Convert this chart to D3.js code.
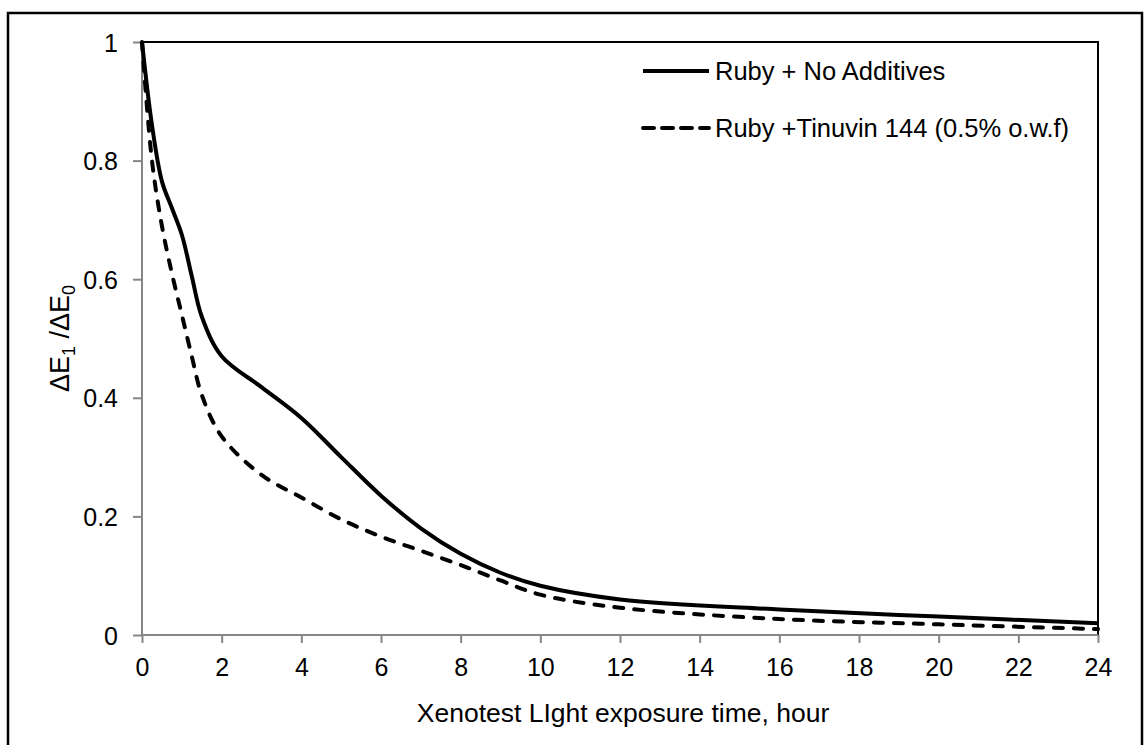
<!DOCTYPE html>
<html><head><meta charset="utf-8">
<script src="https://cdn.jsdelivr.net/npm/d3@7"></script>
<style>body{margin:0;background:#fff}svg{display:block;font-family:"Liberation Sans",Arial,sans-serif}</style>
</head><body><svg id="c" width="1144" height="745"></svg>
<script>
const hours = [0, 0.25, 0.5, 0.75, 1, 1.25, 1.5, 2, 3, 4, 5, 6, 7, 8, 9, 10, 12, 16, 20, 24];
const noAdditives = [1.0, 0.86, 0.765, 0.72, 0.675, 0.605, 0.537, 0.47, 0.418, 0.366, 0.3, 0.235, 0.18, 0.137, 0.105, 0.083, 0.06, 0.043, 0.031, 0.02];
const tinuvin = [1.0, 0.8, 0.69, 0.61, 0.54, 0.47, 0.405, 0.335, 0.27, 0.232, 0.195, 0.166, 0.142, 0.118, 0.092, 0.068, 0.046, 0.027, 0.018, 0.01];
const seriesNames = ["Ruby + No Additives", "Ruby +Tinuvin 144 (0.5% o.w.f)"];
const xTicks = [0,2,4,6,8,10,12,14,16,18,20,22,24];
const yTicks = [0,0.2,0.4,0.6,0.8,1];

const svg = d3.select("#c");
const L = 142, R = 1098, T = 42, B = 635;
const x = d3.scaleLinear().domain([0,24]).range([L,R]);
const y = d3.scaleLinear().domain([0,1]).range([B,T]);

// outer border
svg.append("rect").attr("x",8).attr("y",13).attr("width",1134).attr("height",760)
  .attr("fill","none").attr("stroke","#000").attr("stroke-width",2.5);

// plot box
svg.append("rect").attr("x",L).attr("y",T).attr("width",R-L).attr("height",B-T)
  .attr("fill","none").attr("stroke","#000").attr("stroke-width",2);

const line = d3.line().x((d,i)=>x(hours[i])).y(d=>y(d)).curve(d3.curveCatmullRom.alpha(0.5));

// axes
const xa = svg.append("g").attr("transform",`translate(0,${B})`)
  .call(d3.axisBottom(x).tickValues(xTicks).tickSize(8).tickPadding(8).tickFormat(d3.format("d")));
const ya = svg.append("g").attr("transform",`translate(${L},0)`)
  .call(d3.axisLeft(y).tickValues(yTicks).tickSize(9).tickPadding(15).tickFormat(d=>d===0||d===1?String(d):d.toFixed(1)));
[xa,ya].forEach(a=>{
  a.selectAll("path,line").attr("stroke","#868686").attr("stroke-width",2);
  a.selectAll("text").attr("font-size",25).attr("fill","#000").attr("font-family","Liberation Sans, Arial, sans-serif");
});
xa.select(".domain").attr("d",`M${L},0H${R}`);
ya.select(".domain").attr("d",`M0,${B}V${T}`);
xa.selectAll("text").attr("dy","0.98em");
ya.selectAll("text").attr("dy","0.36em");

// series
svg.append("path").datum(noAdditives).attr("d",line).attr("fill","none")
  .attr("stroke","#000").attr("stroke-width",4);
svg.append("path").datum(tinuvin).attr("d",line).attr("fill","none")
  .attr("stroke","#000").attr("stroke-width",4).attr("stroke-dasharray","9,11").attr("stroke-linecap","round");

// legend
const lg = svg.append("g");
[0,1].forEach(i=>{
  const yy = 71 + i*57;
  const ln = lg.append("line").attr("x1",643).attr("x2",709).attr("y1",yy).attr("y2",yy)
    .attr("stroke","#000").attr("stroke-width",4);
  if(i===1) ln.attr("stroke-dasharray","11,8").attr("stroke-linecap","round");
  lg.append("text").attr("x",715).attr("y",yy+9).attr("font-size",25.5).text(seriesNames[i]);
});

// axis titles
svg.append("text").attr("x",623).attr("y",722).attr("text-anchor","middle").attr("font-size",26.5)
  .text("Xenotest LIght exposure time, hour");
const yt = svg.append("text").attr("transform",`translate(69,${(T+B)/2}) rotate(-90)`)
  .attr("text-anchor","middle").attr("font-size",27);
yt.append("tspan").text("ΔE");
yt.append("tspan").attr("font-size",18).attr("dy",6).text("1");
yt.append("tspan").attr("dy",-6).text(" /ΔE");
yt.append("tspan").attr("font-size",18).attr("dy",6).text("0");
</script></body></html>
